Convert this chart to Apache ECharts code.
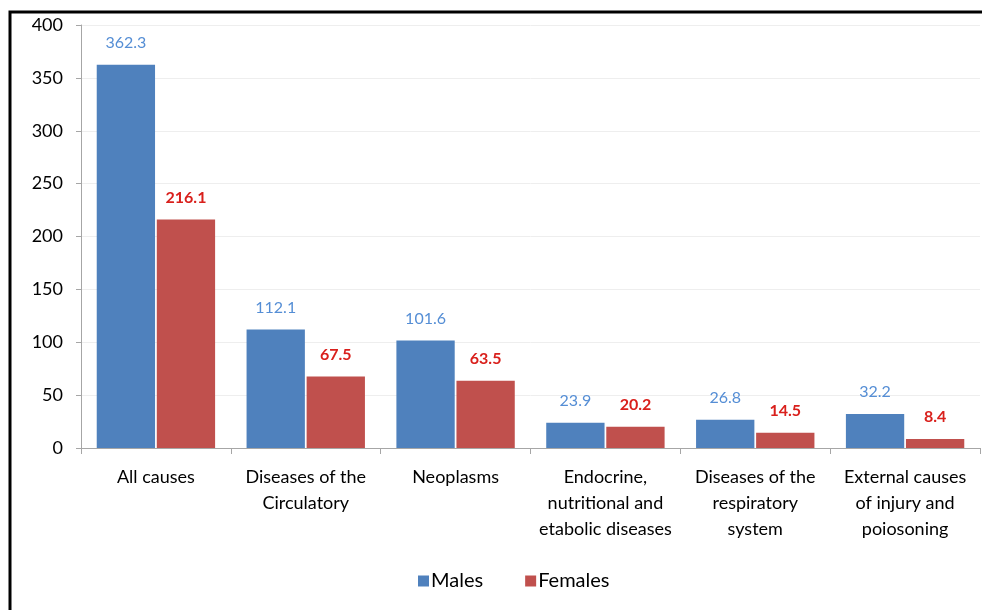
<!DOCTYPE html>
<html>
<head>
<meta charset="utf-8">
<script src="https://cdn.jsdelivr.net/npm/echarts@6/dist/echarts.min.js"></script>
<style>
  html, body { margin: 0; padding: 0; background: #fff; }
  #chart { width: 982px; height: 610px; }
</style>
</head>
<body>
<div id="chart"></div>
<script>
var categories = [
  'All causes',
  'Diseases of the\nCirculatory',
  'Neoplasms',
  'Endocrine,\nnutritional and\netabolic diseases',
  'Diseases of the\nrespiratory\nsystem',
  'External causes\nof injury and\npoiosoning'
];
var males = [362.3, 112.1, 101.6, 23.9, 26.8, 32.2];
var females = [216.1, 67.5, 63.5, 20.2, 14.5, 8.4];
var yTicks = { min: 0, max: 400, interval: 50 };

var chart = echarts.init(document.getElementById('chart'));
var font = 'Lato, "Open Sans", sans-serif';

chart.setOption({
  animation: false,
  textStyle: { fontFamily: font },
  graphic: [{
    type: 'rect',
    shape: { x: 10, y: 12, width: 1000, height: 700 },
    style: { fill: 'none', stroke: '#000', lineWidth: 3 }
  }],
  grid: { left: 81, right: 2, top: 25, bottom: 162 },
  legend: {
    bottom: 14,
    left: 413,
    icon: 'rect',
    itemWidth: 11,
    itemHeight: 11,
    itemGap: 42,
    textStyle: { fontSize: 20, color: '#000', fontFamily: font, padding: [0, 0, 0, -3] },
    data: ['Males', 'Females']
  },
  xAxis: {
    type: 'category',
    data: categories,
    axisLine: { lineStyle: { color: '#A6A6A6' } },
    axisTick: { show: true, length: 6, lineStyle: { color: '#A6A6A6' } },
    axisLabel: {
      interval: 0, fontSize: 18, color: '#000', lineHeight: 26, margin: 16,
      fontFamily: font
    }
  },
  yAxis: {
    type: 'value',
    min: yTicks.min,
    max: yTicks.max,
    interval: yTicks.interval,
    axisLine: { show: true, lineStyle: { color: '#A6A6A6' } },
    axisTick: { show: true, length: 5, lineStyle: { color: '#A6A6A6' } },
    axisLabel: { fontSize: 18, color: '#000', margin: 18, fontFamily: font },
    splitLine: { lineStyle: { color: '#EEEEEE' } }
  },
  series: [
    {
      name: 'Males',
      type: 'bar',
      data: males,
      barCategoryGap: '21%',
      barGap: '3%',
      itemStyle: { color: '#4F81BD' },
      label: {
        show: true, position: 'top', distance: 14,
        color: '#558ED5', fontSize: 16, fontFamily: font
      }
    },
    {
      name: 'Females',
      type: 'bar',
      data: females,
      itemStyle: { color: '#C0504D' },
      label: {
        show: true, position: 'top', distance: 14,
        color: '#D9201C', fontSize: 16, fontWeight: 'bold', fontFamily: font
      }
    }
  ]
});
</script>
</body>
</html>
